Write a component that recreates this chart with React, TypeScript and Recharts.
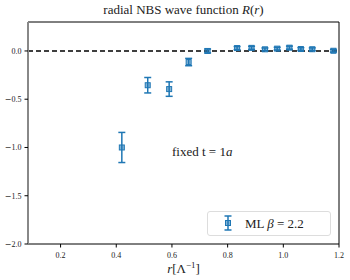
import React from "react";
import {
  ScatterChart,
  Scatter,
  XAxis,
  YAxis,
  ErrorBar,
  ReferenceLine,
} from "recharts";

const rValues = [0.42, 0.513, 0.59, 0.66, 0.728, 0.834, 0.886, 0.934, 0.978, 1.022, 1.063, 1.104, 1.18];
const waveValues = [-1.0, -0.355, -0.395, -0.115, 0.0, 0.03, 0.032, 0.017, 0.024, 0.034, 0.02, 0.018, 0.002];
const waveErrors = [0.156, 0.08, 0.075, 0.038, 0.02, 0.016, 0.016, 0.014, 0.014, 0.016, 0.014, 0.014, 0.014];

const xTicks = [0.2, 0.4, 0.6, 0.8, 1.0, 1.2];
const yTicks = [0.0, -0.5, -1.0, -1.5, -2.0];

const BLUE = "#1f77b4";
const FONT = "'Liberation Serif', 'DejaVu Serif', serif";

const points = rValues.map((r, i) => ({ r, R: waveValues[i], err: waveErrors[i] }));

function SquareMarker(props: any) {
  const { cx, cy } = props;
  if (cx == null || cy == null) return null;
  return (
    <rect
      x={cx - 2.5}
      y={cy - 2.5}
      width={5}
      height={5}
      fill={BLUE}
      fillOpacity={0.55}
      stroke={BLUE}
      strokeWidth={1}
    />
  );
}

function YTick(props: any) {
  const { x, y, payload } = props;
  const v: number = payload.value;
  return (
    <text x={x - 1} y={y} dy={3} textAnchor="end" fontSize={8} fill="#222" fontFamily={FONT}>
      {v < 0 && <tspan fontFamily="'DejaVu Sans', sans-serif" fontSize={8}>{"\u2212"}</tspan>}
      <tspan>{Math.abs(v).toFixed(1)}</tspan>
    </text>
  );
}

function XTick(props: any) {
  const { x, y, payload } = props;
  return (
    <text x={x} y={y} dy={8} textAnchor="middle" fontSize={8} fill="#222" fontFamily={FONT}>
      {payload.value.toFixed(1)}
    </text>
  );
}

export default function App() {
  return (
    <div style={{ position: "absolute", left: 0, top: 0, width: 350, height: 280, background: "#fff", fontFamily: FONT }}>
      <div
        style={{
          position: "absolute",
          left: 28,
          width: 311,
          top: 2,
          textAlign: "center",
          fontSize: 13,
          color: "#222",
        }}
      >
        radial NBS wave function <i>R</i>(<i>r</i>)
      </div>
      <ScatterChart width={350} height={280} margin={{ top: 22, right: 11, bottom: 0, left: 0 }}>
        <XAxis
          type="number"
          dataKey="r"
          domain={[0.083, 1.2]}
          ticks={xTicks}
          allowDataOverflow
          height={36}
          tickSize={3.5}
          axisLine={{ stroke: "#000", strokeWidth: 1 }}
          tickLine={{ stroke: "#000" }}
          tick={<XTick />}
        />
        <YAxis
          type="number"
          dataKey="R"
          domain={[-2.0, 0.3]}
          ticks={yTicks}
          allowDataOverflow
          width={28}
          tickSize={3.5}
          axisLine={{ stroke: "#888", strokeWidth: 2 }}
          tickLine={{ stroke: "#000" }}
          tick={<YTick />}
        />
        <ReferenceLine y={0.3} stroke="#000" strokeWidth={1} />
        <ReferenceLine x={1.2} stroke="#000" strokeWidth={1} />
        <ReferenceLine y={0} stroke="#000" strokeWidth={1.5} strokeDasharray="5 3" />
        <Scatter data={points} shape={<SquareMarker />} isAnimationActive={false}>
          <ErrorBar dataKey="err" direction="y" width={3.5} stroke={BLUE} strokeWidth={1.5} isAnimationActive={false} />
        </Scatter>
      </ScatterChart>
      <div
        style={{
          position: "absolute",
          left: 28,
          width: 311,
          top: 260,
          textAlign: "center",
          fontSize: 13,
          color: "#222",
        }}
      >
        <i>r</i>[Λ<sup style={{ fontSize: 9 }}>−1</sup>]
      </div>
      <div
        style={{
          position: "absolute",
          left: 172,
          top: 144,
          fontSize: 13,
          color: "#222",
          whiteSpace: "nowrap",
        }}
      >
        fixed t = 1<i>a</i>
      </div>
      <div
        style={{
          position: "absolute",
          left: 207,
          top: 211,
          width: 124,
          height: 25,
          border: "1px solid #ddd",
          borderRadius: 3,
          background: "rgba(255,255,255,0.8)",
          boxSizing: "border-box",
        }}
      >
        <svg width={30} height={25} style={{ position: "absolute", left: 5, top: 0 }}>
          <line x1={15} y1={4} x2={15} y2={18} stroke={BLUE} strokeWidth={1.5} />
          <line x1={11.5} y1={4} x2={18.5} y2={4} stroke={BLUE} strokeWidth={1.5} />
          <line x1={11.5} y1={18} x2={18.5} y2={18} stroke={BLUE} strokeWidth={1.5} />
          <rect x={12.5} y={8.5} width={5} height={5} fill={BLUE} fillOpacity={0.55} stroke={BLUE} />
        </svg>
        <div
          style={{
            position: "absolute",
            left: 37,
            top: 4,
            fontSize: 13,
            color: "#222",
            whiteSpace: "nowrap",
          }}
        >
          ML <i>β</i> = 2.2
        </div>
      </div>
    </div>
  );
}
